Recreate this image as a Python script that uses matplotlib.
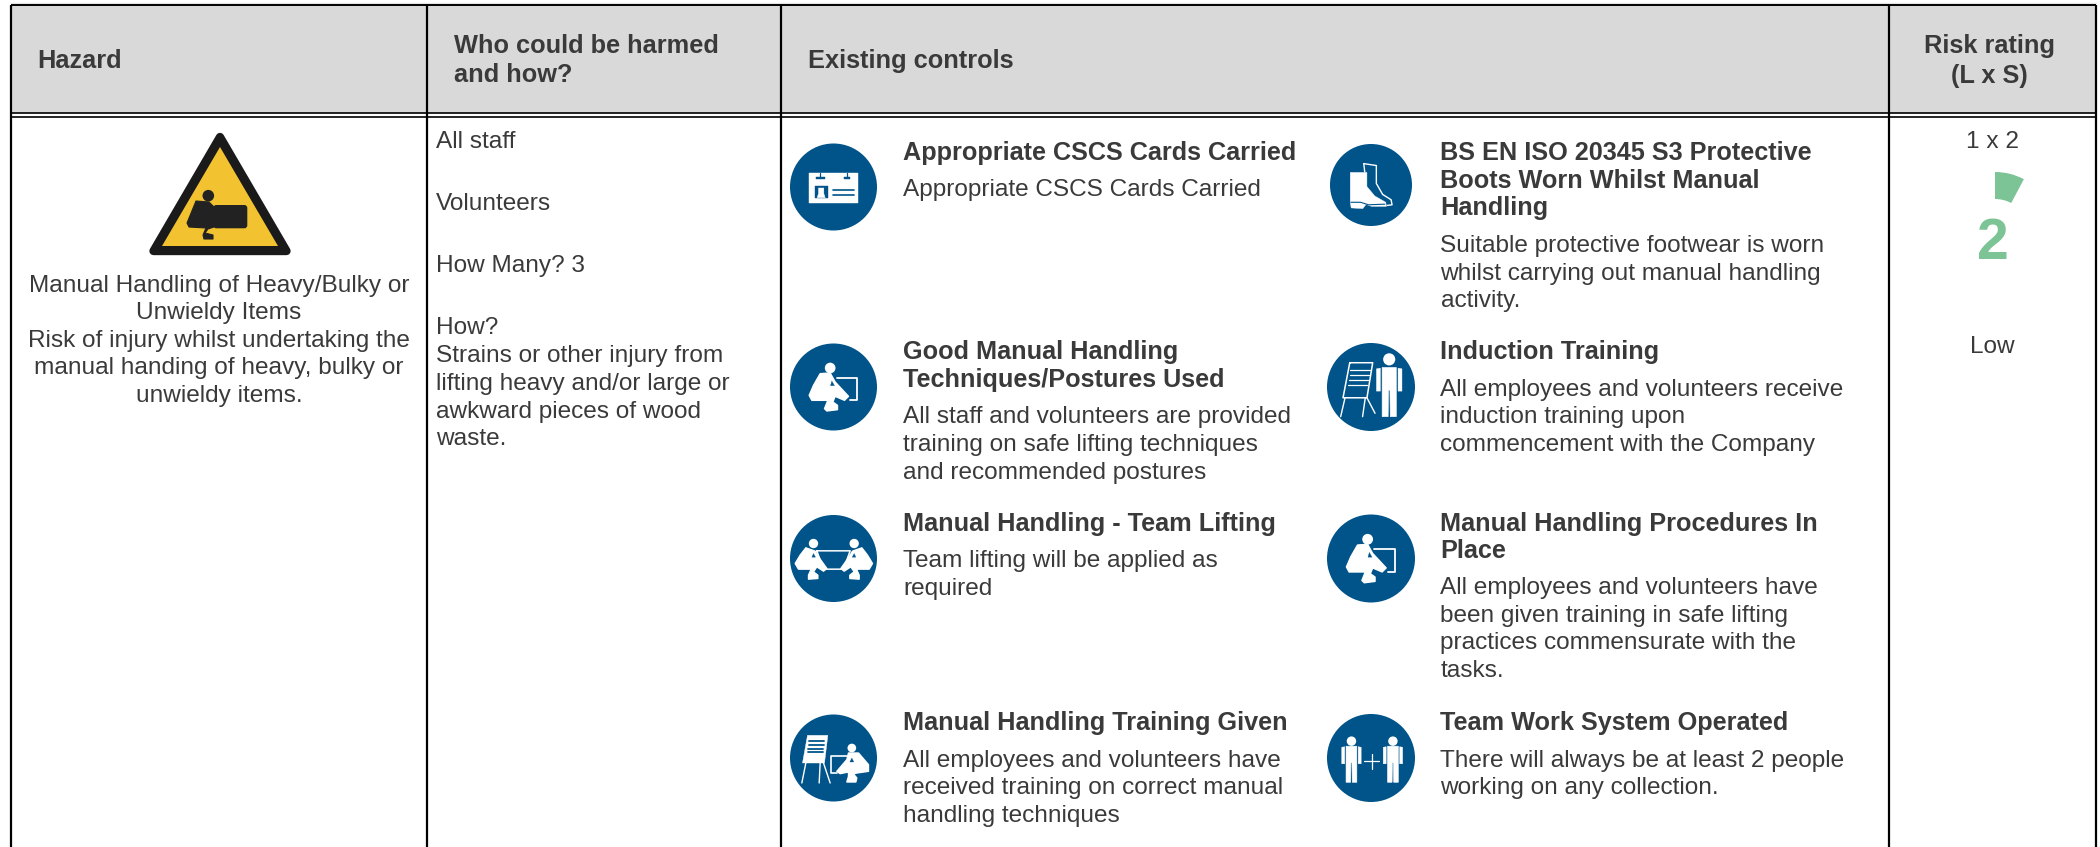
import matplotlib
matplotlib.use("Agg")
import matplotlib.pyplot as plt
from matplotlib.patches import Rectangle, Polygon, Circle, Wedge, FancyBboxPatch

plt.rcParams['font.family'] = ['Liberation Sans', 'DejaVu Sans']

W, H = 2100, 847
INK = '#3a3a3a'; BLUE = '#00548a'; GREEN = '#7cc495'; HEAD = '#d9d9d9'

# ---- content ----
headers = [("Hazard", 37, [68], 'left'),
           ("Who could be harmed\nand how?", 454, [53, 82], 'left'),
           ("Existing controls", 807.5, [68], 'left'),
           ("Risk rating\n(L x S)", 1989, [53, 83], 'center')]
hazard_lines = ["Manual Handling of Heavy/Bulky or", "Unwieldy Items",
                "Risk of injury whilst undertaking the",
                "manual handing of heavy, bulky or", "unwieldy items."]
hazard_base = [292, 319, 347, 374, 402]
who_lines = ["All staff", "Volunteers", "How Many? 3", "How?",
             "Strains or other injury from", "lifting heavy and/or large or",
             "awkward pieces of wood", "waste."]
who_base = [148, 210, 272, 334, 362, 390, 418, 445]
controls = [
    ("card", 833.5, 187, 43.5, 903, ["Appropriate CSCS Cards Carried"], [160],
     ["Appropriate CSCS Cards Carried"], [196]),
    ("boot", 1371, 185, 41, 1440.5,
     ["BS EN ISO 20345 S3 Protective", "Boots Worn Whilst Manual", "Handling"], [160, 187.5, 215],
     ["Suitable protective footwear is worn", "whilst carrying out manual handling", "activity."], [252, 280, 307]),
    ("lift", 833.5, 387, 43.5, 903, ["Good Manual Handling", "Techniques/Postures Used"], [359, 387],
     ["All staff and volunteers are provided", "training on safe lifting techniques", "and recommended postures"], [423, 451, 479]),
    ("induct", 1371, 387, 44, 1440.5, ["Induction Training"], [359],
     ["All employees and volunteers receive", "induction training upon", "commencement with the Company"], [396, 423, 451]),
    ("team", 833.5, 558.5, 43.5, 903, ["Manual Handling - Team Lifting"], [531],
     ["Team lifting will be applied as", "required"], [567, 595]),
    ("lift", 1371, 558.5, 44, 1440.5, ["Manual Handling Procedures In", "Place"], [531, 558],
     ["All employees and volunteers have", "been given training in safe lifting",
      "practices commensurate with the", "tasks."], [594, 622, 649, 677]),
    ("train", 833.5, 758, 43.5, 903, ["Manual Handling Training Given"], [730],
     ["All employees and volunteers have", "received training on correct manual", "handling techniques"], [767, 794, 822]),
    ("pair", 1371, 758, 44, 1440.5, ["Team Work System Operated"], [730],
     ["There will always be at least 2 people", "working on any collection."], [767, 794]),
]
rating_formula = "1 x 2"; rating_value = "2"; rating_label = "Low"

column_edges = [11, 427, 781, 1889, 2096]
FS = 17.6; TITLE_FS = 18.15; HEADER_FS = 18.3

fig = plt.figure(figsize=(W/100, H/100), dpi=100, facecolor='white')
ax = fig.add_axes([0, 0, 1, 1])
ax.set_xlim(0, W); ax.set_ylim(H, 0); ax.axis('off')


def bold(x, y, s, fs=TITLE_FS, **kw):
    return ax.text(x, y, s, va='baseline', color=INK, fontsize=fs, fontweight='bold', **kw)


# ---- table ----
ax.add_patch(Rectangle((11, 5), 2085, 108, fc=HEAD, ec='none', zorder=0))
ax.plot([11, 2096], [3.2, 3.2], color='#e4e4e4', lw=1, zorder=1)
for y, lw in ((5, 1.4), (113.5, 1.2), (117, 1.2)):
    ax.plot([11, 2096], [y, y], color='black', lw=lw, zorder=3, solid_capstyle='butt')
for x in column_edges:
    ax.plot([x, x], [5, H], color='black', lw=1.6, zorder=3, solid_capstyle='butt')

for text, x, bases, ha in headers:
    for line, b in zip(text.split("\n"), bases):
        bold(x, b, line, fs=HEADER_FS, ha=ha)

for s, b in zip(hazard_lines, hazard_base):
    ax.text(219, b, s, ha='center', va='baseline', color=INK, fontsize=FS)
for s, b in zip(who_lines, who_base):
    ax.text(436, b, s, ha='left', va='baseline', color=INK, fontsize=FS)

# ---- warning triangle ----
ax.add_patch(Polygon([(220, 137), (153.5, 251), (286.5, 251)], closed=True, fc='#1a1a1a', ec='#1a1a1a',
                     lw=6, joinstyle='round', zorder=2))
ax.add_patch(Polygon([(220, 147), (162, 246), (278, 246)], closed=True, fc='#f2c230', ec='none', zorder=3))
DK = '#222222'
ax.add_patch(Circle((208.3, 195.7), 5.8, fc=DK, ec='none', zorder=4))
ax.add_patch(FancyBboxPatch((213.3, 205), 34, 23.3, boxstyle='round,pad=0,rounding_size=3', fc=DK, ec='none', zorder=4))
ax.add_patch(Polygon([(196, 201), (209, 202), (214, 207), (214, 227), (208, 229), (205, 233), (213, 235), (213, 239),
                     (204, 239), (203, 235), (206, 228), (189, 227), (187, 223)],
                     closed=True, fc=DK, ec=DK, lw=0.8, zorder=4, joinstyle='round'))

# ---- rating ----
ax.text(1993, 148, rating_formula, ha='center', va='baseline', color=INK, fontsize=FS)
ax.add_patch(Wedge((1995, 233.5), 61.5, -90, -62, width=27, fc=GREEN, ec='none', zorder=2))
ax.text(1992.5, 259, rating_value, ha='center', va='baseline', color=GREEN, fontsize=41, fontweight='bold',
        family=['Liberation Sans'])
ax.text(1992, 353, rating_label, ha='center', va='baseline', color=INK, fontsize=FS)


# ---- icons: drawn in 3x crop units relative to the circle centre ----
def T(cx, cy, k, pts, ox=145, oy=140, flip=None):
    out = []
    for (a, b) in pts:
        if flip is not None:
            a = 2*flip - a
        out.append((cx + (a-ox)/3*k, cy + (b-oy)/3*k))
    return out


LIFT_BODY = [(105, 100), (135, 98), (150, 125), (190, 168), (178, 180), (150, 168), (143, 185), (157, 195),
             (157, 208), (125, 212), (118, 205), (128, 180), (80, 180), (72, 165), (85, 135)]


def icon_poly(cx, cy, k, pts, fc='white', z=5, lw=1.0, **kw):
    ax.add_patch(Polygon(T(cx, cy, k, pts, **kw), closed=True, fc=fc, ec=fc, lw=lw, zorder=z, joinstyle='round'))


def icon_line(cx, cy, k, pts, lw=1.2, color='white', z=5, **kw):
    xy = T(cx, cy, k, pts, **kw)
    ax.plot([p[0] for p in xy], [p[1] for p in xy], color=color, lw=lw, zorder=z, solid_capstyle='round',
            solid_joinstyle='round')


def icon_head(cx, cy, k, a, b, r):
    x, y = T(cx, cy, k, [(a, b)])[0]
    ax.add_patch(Circle((x, y), r/3*k, fc='white', ec='none', zorder=5))


def person(cx, cy, k, hx, top, r, u, t0, bottom):
    icon_head(cx, cy, k, hx, top, r)
    crotch = t0 + (bottom-t0)*0.46
    icon_poly(cx, cy, k, [(hx-20*u, t0), (hx+20*u, t0), (hx+20*u, bottom), (hx+3*u, bottom),
                          (hx+2*u, crotch), (hx-2*u, crotch), (hx-3*u, bottom), (hx-20*u, bottom)], lw=0.4)
    for sgn in (-1, 1):
        icon_poly(cx, cy, k, [(hx+sgn*25*u, t0+2*u), (hx+sgn*36*u, t0+4*u), (hx+sgn*36*u, crotch+3),
                              (hx+sgn*25*u, crotch+3)], lw=0.3)


def draw_icon(kind, cx, cy, r):
    ax.add_patch(Circle((cx, cy), r, fc=BLUE, ec='none', zorder=4))
    k = r/43.5
    if kind == 'card':
        icon_poly(cx, cy, k, [(70, 97), (218, 97), (218, 187), (70, 187)], lw=0.3)
        for a, b in ((92, 118), (175, 195)):
            icon_poly(cx, cy, k, [(a, 110), (b, 110), (b, 115), (a, 115)], fc=BLUE, z=6, lw=0.3)
        for a in (105, 185):
            icon_line(cx, cy, k, [(a, 97), (a, 110)], color=BLUE, lw=0.9, z=6)
        icon_poly(cx, cy, k, [(88, 138), (128, 138), (128, 172), (88, 172)], fc=BLUE, z=6, lw=0.3)
        icon_poly(cx, cy, k, [(100, 143), (116, 143), (116, 160), (120, 172), (96, 172), (100, 160)], z=7, lw=0.3)
        for y in (148, 163):
            icon_line(cx, cy, k, [(143, y), (207, y)], color=BLUE, lw=1.2, z=6)
    elif kind == 'lift':
        icon_head(cx, cy, k, 135, 83, 16)
        icon_poly(cx, cy, k, LIFT_BODY)
        icon_line(cx, cy, k, [(155, 112), (215, 112), (215, 180), (195, 180)], lw=1.3)
        icon_poly(cx, cy, k, [(140, 122), (148, 136), (136, 136)], fc=BLUE, z=6, lw=0.2)
    elif kind == 'team':
        body = [(62, 108), (90, 118), (100, 135), (125, 170), (115, 178), (95, 165), (85, 180), (98, 190), (98, 200),
                (70, 202), (70, 190), (78, 172), (40, 172), (30, 155), (45, 130)]
        icon_head(cx, cy, k, 85, 95, 14); icon_head(cx, cy, k, 207, 95, 14)
        icon_poly(cx, cy, k, body)
        icon_poly(cx, cy, k, body, flip=146)
        icon_line(cx, cy, k, [(95, 117), (195, 117), (175, 172), (115, 172), (95, 117)], lw=1.1)
        for fl in (None, 146):
            icon_poly(cx, cy, k, [(85, 125), (91, 136), (80, 136)], fc=BLUE, z=6, flip=fl, lw=0.2)
    elif kind == 'train':
        icon_poly(cx, cy, k, [(67, 72), (128, 72), (118, 155), (52, 155)], lw=0.3)
        for y, a, b in ((88, 72, 116), (100, 71, 115), (112, 69, 113), (123, 68, 112)):
            icon_line(cx, cy, k, [(a, y), (b, y)], color=BLUE, lw=1.3, z=6)
        icon_line(cx, cy, k, [(62, 155), (50, 215)], lw=1.0)
        icon_line(cx, cy, k, [(105, 155), (102, 215)], lw=1.0)
        icon_line(cx, cy, k, [(115, 155), (135, 215)], lw=1.0)
        icon_head(cx, cy, k, 200, 110, 13)
        icon_poly(cx, cy, k, [(190, 125), (220, 125), (250, 160), (250, 180), (215, 185), (205, 188), (215, 200),
                              (212, 212), (185, 212), (190, 195), (190, 182), (165, 187), (155, 180), (185, 145)])
        icon_line(cx, cy, k, [(185, 135), (138, 135), (138, 185), (155, 185)], lw=1.2)
        icon_poly(cx, cy, k, [(200, 140), (206, 152), (194, 152)], fc=BLUE, z=6, lw=0.2)
    elif kind == 'boot':
        kw = dict(ox=148, oy=135)
        icon_line(cx, cy, k, [(125, 67), (165, 73), (165, 130), (185, 165), (212, 182), (215, 198), (200, 200)], lw=1.0, **kw)
        icon_line(cx, cy, k, [(125, 67), (128, 93)], lw=1.0, **kw)
        icon_poly(cx, cy, k, [(82, 95), (135, 95), (135, 140), (160, 170), (195, 190), (197, 203), (150, 203), (132, 197),
                              (122, 210), (85, 208), (82, 190)], lw=0.3, **kw)
        icon_line(cx, cy, k, [(84, 190), (115, 190), (140, 198), (192, 196)], color=BLUE, lw=0.8, z=6, **kw)
    elif kind == 'induct':
        icon_line(cx, cy, k, [(82, 68), (150, 68), (133, 172), (62, 172), (82, 68)], lw=1.1)
        for y, a, b in ((90, 84, 142), (105, 82, 140), (120, 79, 137), (135, 76, 134)):
            icon_line(cx, cy, k, [(a, y), (b, y)], lw=0.9)
        icon_line(cx, cy, k, [(68, 172), (55, 228)], lw=1.0)
        icon_line(cx, cy, k, [(128, 172), (120, 228)], lw=1.0)
        icon_line(cx, cy, k, [(133, 172), (157, 218)], lw=1.0)
        person(cx, cy, k, 199, 58, 18, 1.05, 82, 228)
    elif kind == 'pair':
        person(cx, cy, k, 87, 90, 14, 0.8, 105, 212)
        person(cx, cy, k, 210, 90, 14, 0.8, 105, 212)
        icon_line(cx, cy, k, [(124, 150), (170, 150)], lw=0.9)
        icon_line(cx, cy, k, [(147, 127), (147, 173)], lw=0.9)


for kind, cx, cy, r, tx, titles, tb, body, bb in controls:
    draw_icon(kind, cx, cy, r)
    for s, b in zip(titles, tb):
        bold(tx, b, s, ha='left')
    for s, b in zip(body, bb):
        ax.text(tx, b, s, ha='left', va='baseline', color=INK, fontsize=FS)

fig.savefig('out.png', dpi=100, facecolor='white')
